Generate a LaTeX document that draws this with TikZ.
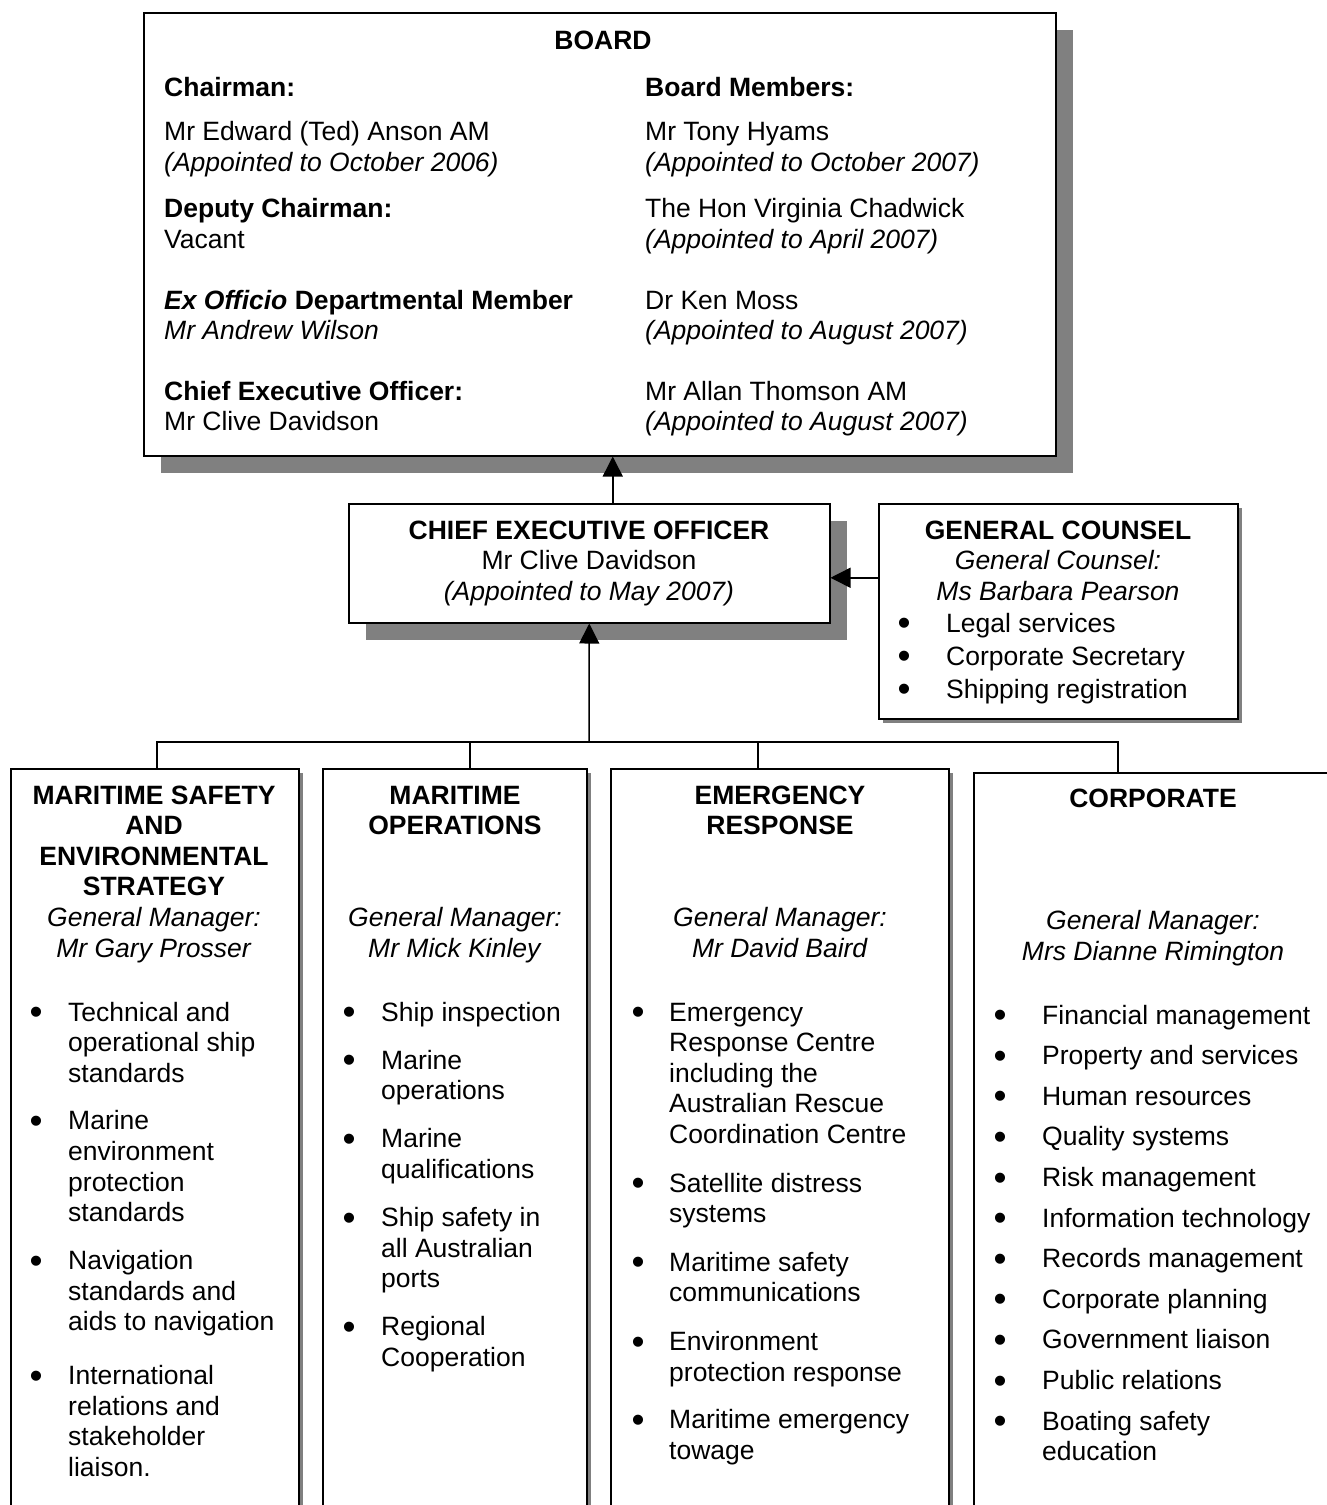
\documentclass[tikz,border=0pt]{standalone}
\usepackage{fontspec}
\setmainfont{Liberation Sans}
\usetikzlibrary{arrows.meta,shadows}
\newcommand{\blt}{\smash{\raisebox{-3.6pt}{\scalebox{1.4}{\textbullet}}}}

\begin{document}
\begin{tikzpicture}[x=1pt,y=-1pt,
  font=\fontsize{26.5}{30.6}\selectfont,
  box/.style={draw,line width=1.5pt,fill=white,inner sep=0pt,anchor=north west},
  bigshadow/.style={drop shadow={shadow xshift=17pt,shadow yshift=-17pt,fill=black!50,opacity=1}},
  smallshadow/.style={drop shadow={shadow xshift=4pt,shadow yshift=-4pt,fill=black!50,opacity=1}},
  txt/.style={inner sep=0pt,anchor=base},
  list/.style={inner sep=0pt,anchor=base west},
  arrow/.style={line width=1.5pt,-{Triangle[length=20pt,width=20pt]}},
  link/.style={line width=1.5pt}]
\useasboundingbox (0,0) rectangle (1327,1505);
\fill[white] (0,0) rectangle (1327,1505);
\clip (0,0) rectangle (1327,1505);

\node[box,bigshadow,minimum width=912pt,minimum height=443pt] (board) at (143,12) {};
\node[box,bigshadow,minimum width=481pt,minimum height=119pt] (ceo) at (348,503) {};
\node[box,smallshadow,minimum width=359pt,minimum height=215pt] (gc) at (878,503) {};
\node[box,smallshadow,minimum width=288pt,minimum height=800pt] (msesl) at (10,768) {};
\node[box,smallshadow,minimum width=264pt,minimum height=800pt] (mops) at (322,768) {};
\node[box,smallshadow,minimum width=338pt,minimum height=800pt] (emresp) at (610,768) {};
\node[box,smallshadow,minimum width=360pt,minimum height=800pt] (corp) at (973,772) {};

\node[txt] (boardtitle) at (603,49) {\textbf{BOARD}};
\node[list] (boardleft) at (164,96) {\begin{tabular}[t]{@{}l@{}}
\textbf{Chairman:}\\[14pt]
Mr Edward (Ted) Anson AM\\
\textit{(Appointed to October 2006)}\\[16pt]
\textbf{Deputy Chairman:}\\
Vacant\\[30pt]
\textbf{\textit{Ex Officio} Departmental Member}\\
\textit{Mr Andrew Wilson}\\[30pt]
\textbf{Chief Executive Officer:}\\
Mr Clive Davidson
\end{tabular}};
\node[list] (boardright) at (645,96) {\begin{tabular}[t]{@{}l@{}}
\textbf{Board Members:}\\[14pt]
Mr Tony Hyams\\
\textit{(Appointed to October 2007)}\\[16pt]
The Hon Virginia Chadwick\\
\textit{(Appointed to April 2007)}\\[30pt]
Dr Ken Moss\\
\textit{(Appointed to August 2007)}\\[30pt]
Mr Allan Thomson AM\\
\textit{(Appointed to August 2007)}
\end{tabular}};

\node[txt] (ceotitle) at (589,539) {\begin{tabular}[t]{@{}c@{}}
\textbf{CHIEF EXECUTIVE OFFICER}\\
Mr Clive Davidson\\
\textit{(Appointed to May 2007)}
\end{tabular}};

\node[txt] (gctitle) at (1058,539) {\begin{tabular}[t]{@{}c@{}}
\textbf{GENERAL COUNSEL}\\
\textit{General Counsel:}\\
\textit{Ms Barbara Pearson}
\end{tabular}};
\node[list] (gclist) at (897.5,632) {\begin{tabular}[t]{@{}p{48.5pt}@{}l@{}}
\blt & Legal services\\[2.4pt]
\blt & Corporate Secretary\\[2.4pt]
\blt & Shipping registration
\end{tabular}};

\node[txt] (mesltitle) at (154,804) {\begin{tabular}[t]{@{}c@{}}
\textbf{MARITIME SAFETY}\\
\textbf{AND}\\
\textbf{ENVIRONMENTAL}\\
\textbf{STRATEGY}\\
\textit{General Manager:}\\
\textit{Mr Gary Prosser}
\end{tabular}};
\node[list] (msesllist) at (29.5,1021) {\begin{tabular}[t]{@{}p{38.5pt}@{}l@{}}
\blt & Technical and\\
& operational ship\\
& standards\\[17pt]
\blt & Marine\\
& environment\\
& protection\\
& standards\\[17.5pt]
\blt & Navigation\\
& standards and\\
& aids to navigation\\[23pt]
\blt & International\\
& relations and\\
& stakeholder\\
& liaison.
\end{tabular}};

\node[txt] (mopstitle) at (455,804) {\begin{tabular}[t]{@{}c@{}}
\textbf{MARITIME}\\
\textbf{OPERATIONS}\\[61.2pt]
\textit{General Manager:}\\
\textit{Mr Mick Kinley}
\end{tabular}};
\node[list] (mopslist) at (342.5,1021) {\begin{tabular}[t]{@{}p{38.5pt}@{}l@{}}
\blt & Ship inspection\\[17.5pt]
\blt & Marine\\
& operations\\[17.5pt]
\blt & Marine\\
& qualifications\\[17.5pt]
\blt & Ship safety in\\
& all Australian\\
& ports\\[17.5pt]
\blt & Regional\\
& Cooperation
\end{tabular}};

\node[txt] (emresptitle) at (780,804) {\begin{tabular}[t]{@{}c@{}}
\textbf{EMERGENCY}\\
\textbf{RESPONSE}\\[61.2pt]
\textit{General Manager:}\\
\textit{Mr David Baird}
\end{tabular}};
\node[list] (emresplist) at (631.5,1021) {\begin{tabular}[t]{@{}p{37.5pt}@{}l@{}}
\blt & Emergency\\
& Response Centre\\
& including the\\
& Australian Rescue\\
& Coordination Centre\\[18pt]
\blt & Satellite distress\\
& systems\\[18pt]
\blt & Maritime safety\\
& communications\\[18pt]
\blt & Environment\\
& protection response\\[17pt]
\blt & Maritime emergency\\
& towage
\end{tabular}};

\node[txt] (corptitle) at (1153,807) {\begin{tabular}[t]{@{}c@{}}
\textbf{CORPORATE}\\[91.8pt]
\textit{General Manager:}\\
\textit{Mrs Dianne Rimington}
\end{tabular}};
\node[list] (corplist) at (993.5,1024) {\begin{tabular}[t]{@{}p{48.5pt}@{}l@{}}
\blt & Financial management\\[10pt]
\blt & Property and services\\[10pt]
\blt & Human resources\\[10pt]
\blt & Quality systems\\[10pt]
\blt & Risk management\\[10pt]
\blt & Information technology\\[10pt]
\blt & Records management\\[10pt]
\blt & Corporate planning\\[10pt]
\blt & Government liaison\\[10pt]
\blt & Public relations\\[10pt]
\blt & Boating safety\\
& education
\end{tabular}};

\coordinate (bus) at (589,742);
\draw[arrow] ([xshift=23.5pt]ceo.north) -- ([xshift=23.5pt]ceo.north |- board.south);
\draw[arrow] ([yshift=33.5pt]gc.west) -- ([yshift=33.5pt]gc.west -| ceo.east);
\draw[arrow] (bus) -- (ceo.south);
\draw[link] ([xshift=2pt]msesl.north) |- ([xshift=-36pt]corp.north |- bus) -- ([xshift=-36pt]corp.north);
\draw[link] ([xshift=15pt]mops.north) -- ([xshift=15pt]mops.north |- bus);
\draw[link] ([xshift=-22pt]emresp.north) -- ([xshift=-22pt]emresp.north |- bus);
\end{tikzpicture}
\end{document}
